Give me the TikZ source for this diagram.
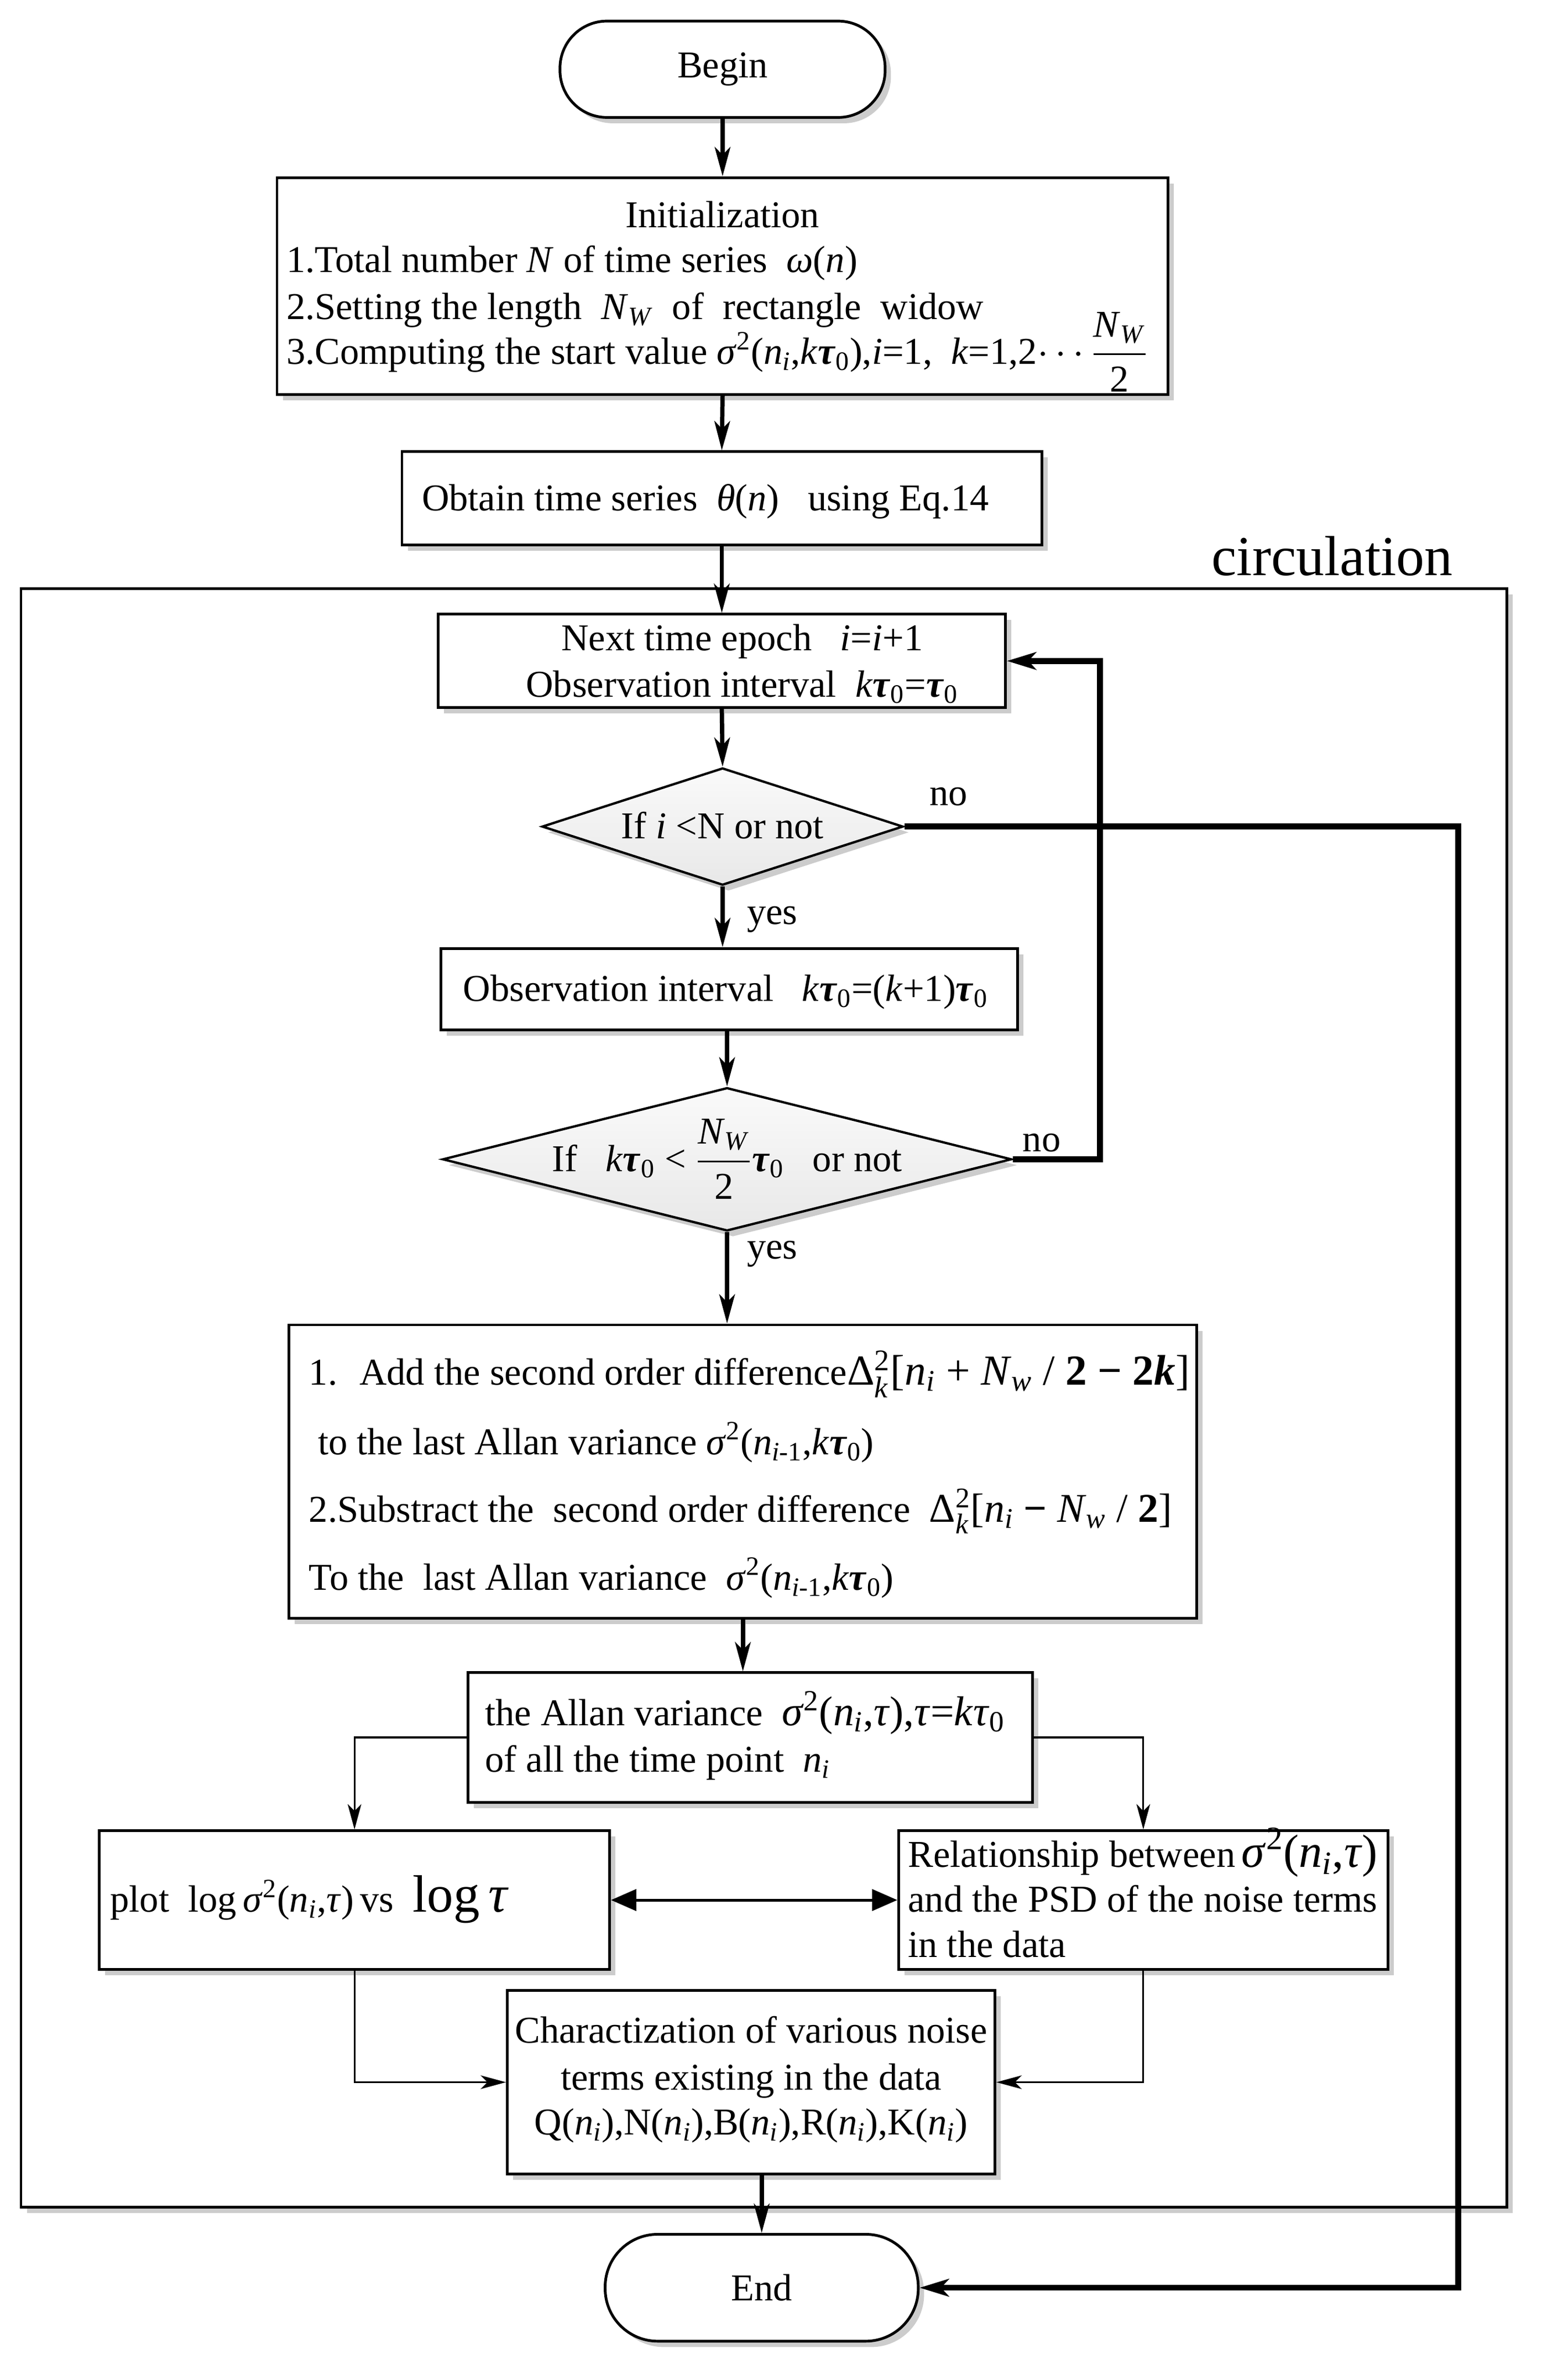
\documentclass[tikz,border=0pt]{standalone}
\usepackage{amsmath}
\usepackage{fontspec}
\setmainfont{Liberation Serif}
\usetikzlibrary{arrows.meta,shapes.geometric,shadows,fit}
\newcommand{\mi}[1]{\textit{#1}}
\newcommand{\lo}[1]{\textsubscript{#1}}
\newcommand{\hi}[1]{\textsuperscript{#1}}
\newcommand{\tauB}{\textbf{\textit{τ}}}
\newcommand{\dsk}{\mbox{Δ}$^{\text{2}}_{\text{\itshape k}}$}
\newcommand{\halfNW}{$\displaystyle\frac{\text{\mi{N}\lo{\mi{W}}}}{\text{2}}$}
\newcommand{\fsz}[1]{\fontsize{#1}{#1}\selectfont}
\begin{document}
\begin{tikzpicture}[x=0.027227cm,y=-0.027227cm,
  shdw/.style={general shadow={shadow xshift=3pt,shadow yshift=-3pt,fill=gray!40}},
  boxst/.style={draw=black,line width=1.4pt,fill=white,inner sep=0pt,shdw},
  term/.style={boxst,rounded corners=0.85cm},
  dia/.style={diamond,draw=black,line width=1.2pt,inner sep=0pt,top color=gray!4,bottom color=gray!18,shdw},
  framest/.style={draw=black,line width=1.2pt,fill=white,inner sep=0pt,shdw},
  txt/.style={anchor=base west,inner sep=0pt,font=\fontsize{19.5}{23}\selectfont},
  ctxt/.style={anchor=base,inner sep=0pt,font=\fontsize{19.5}{23}\selectfont},
  thk/.style={line width=2.2pt,-{Stealth[length=15pt,width=8pt,inset=4pt]}},
  thkx/.style={line width=3pt,-{Stealth[length=15pt,width=9pt,inset=4pt]}},
  thn/.style={line width=0.9pt,-{Stealth[length=13pt,width=7pt,inset=3.5pt]}},
  dbl/.style={line width=1.4pt,{Triangle[length=13pt,width=11pt]}-{Triangle[length=13pt,width=11pt]}}
]
\useasboundingbox (0,0) rectangle (1024,1580.8);

% circulation frame
\node[framest,fit={(14,391)(1001,1466)}] (circ) {};
\node[anchor=base,inner sep=0pt,font=\fontsize{29}{32}\selectfont] (circlab) at (885,382) {circulation};

% terminals
\node[term,fit={(372,14)(588,78)}] (begin) {};
\node[ctxt,anchor=center] (tbegin) at (begin.center) {Begin};
\node[term,rounded corners=0.95cm,fit={(402,1484)(610,1555)}] (end) {};
\node[ctxt,anchor=center] (tend) at (end.center) {End};

% initialization
\node[boxst,fit={(184,118)(776,262)}] (init) {};
\node[ctxt] (ti0) at (480,151) {Initialization};
\node[txt] (ti1) at (190,181) {1.Total number \mi{N} of time series \ \mi{ω}(\mi{n})};
\node[txt] (ti2) at (190,212) {2.Setting the length \ \mi{N}\lo{\mi{W}} \ of \ rectangle \ widow};
\node[txt] (ti3) at (190,242) {3.Computing the start value \mi{σ}\hi{2}(\mi{n}\lo{\mi{i}},\mi{k}\tauB\lo{0}),\mi{i}=1, \ \mi{k}=1,2$\cdots$\halfNW};

% theta
\node[boxst,fit={(267,300)(692,362)}] (theta) {};
\node[txt] (tth) at (280,339) {Obtain time series \ \mi{θ}(\mi{n}) \ \ using Eq.14};

% next epoch
\node[boxst,fit={(291,408)(668,470)}] (next) {};
\node[ctxt] (tn1) at (493,432) {Next time epoch \ \ \mi{i}=\mi{i}+1};
\node[ctxt] (tn2) at (493,463) {Observation interval \ \mi{k}\tauB\lo{0}=\tauB\lo{0}};

% decision 1
\node[dia,minimum width=6.53cm,minimum height=2.12cm] (d1) at (480,549) {};
\node[ctxt] (td1) at (480,557) {If \mi{i} <N or not};

% obs interval
\node[boxst,fit={(293,630)(676,684)}] (obs) {};
\node[ctxt] (tobs) at (482,665) {Observation interval \ \ \mi{k}\tauB\lo{0}=(\mi{k}+1)\tauB\lo{0}};

% decision 2
\node[dia,minimum width=10.29cm,minimum height=2.59cm] (d2) at (483,770) {};
\node[ctxt] (td2) at (483,778) {If \ \ \mi{k}\tauB\lo{0} < \halfNW\tauB\lo{0} \ \ or not};

% big update box
\node[boxst,fit={(192,880)(795,1075)}] (big) {};
\node[txt] (tb1) at (205,920) {1. \ Add the second order difference{\fsz{22}\dsk[\mi{n}\lo{\mi{i}} + \mi{N}\lo{\mi{w}} / \textbf{2} {\bfseries −} \textbf{2\mi{k}}]}};
\node[txt] (tb2) at (211,966) {to the last Allan variance \mi{σ}\hi{2}(\mi{n}\lo{\mi{i}-1},\mi{k}\tauB\lo{0})};
\node[txt] (tb3) at (205,1011) {2.Substract the \ second order difference \ {\fsz{21}\dsk[\mi{n}\lo{\mi{i}} {\bfseries −} \mi{N}\lo{\mi{w}} / \textbf{2}]}};
\node[txt] (tb4) at (205,1056) {To the \ last Allan variance \ \mi{σ}\hi{2}(\mi{n}\lo{\mi{i}-1},\mi{k}\tauB\lo{0})};

% allan variance
\node[boxst,fit={(311,1111)(686,1197)}] (allan) {};
\node[txt] (ta1) at (322,1146) {the Allan variance \ {\fsz{21.5}\mi{σ}\hi{2}(\mi{n}\lo{\mi{i}},\mi{τ}),\mi{τ}=\mi{k}\mi{τ}\lo{0}}};
\node[txt] (ta2) at (322,1177) {of all the time point \ \mi{n}\lo{\mi{i}}};

% plot
\node[boxst,fit={(66,1216)(405,1308)}] (plot) {};
\node[txt] (tp) at (73,1270) {plot \ log\,\mi{σ}\hi{2}(\mi{n}\lo{\mi{i}},\mi{τ})\,vs \ {\fontsize{27}{30}\selectfont log\,\mi{τ}}};

% relationship
\node[boxst,fit={(597,1216)(922,1308)}] (rel) {};
\node[txt] (tr1) at (603,1240) {Relationship between\,{\fsz{24}\mi{σ}\hi{2}(\mi{n}\lo{\mi{i}},\mi{τ})}};
\node[txt] (tr2) at (603,1270) {and the PSD of the noise terms};
\node[txt] (tr3) at (603,1300) {in the data};

% characterization
\node[boxst,fit={(337,1322)(661,1444)}] (char) {};
\node[ctxt] (tc1) at (499,1357) {Charactization of various noise};
\node[ctxt] (tc2) at (499,1388) {terms existing in the data};
\node[ctxt] (tc3) at (499,1418) {Q(\mi{n}\lo{\mi{i}}),N(\mi{n}\lo{\mi{i}}),B(\mi{n}\lo{\mi{i}}),R(\mi{n}\lo{\mi{i}}),K(\mi{n}\lo{\mi{i}})};

% labels
\node[ctxt] (no1) at (630,535) {no};
\node[ctxt] (yes1) at (513,614) {yes};
\node[ctxt] (no2) at (692,765) {no};
\node[ctxt] (yes2) at (513,836) {yes};

% connectors
\draw[thk] (begin.south) -- (init.north);
\draw[thk] (init.south) -- (theta.north);
\draw[thk] (theta.south) -- (next.north);
\draw[thk] (next.south) -- (d1.north);
\draw[thk] (d1.south) -- (d1.south |- obs.north);
\draw[thk] (obs.south -| d2.north) -- (d2.north);
\draw[thk] (d2.south) -- (d2.south |- big.north);
\draw[thk] (big.south) -- (big.south |- allan.north);
\draw[thn] (allan.west) -| (plot.north);
\draw[thn] (allan.east) -| (rel.north);
\draw[dbl] (plot.east) -- (rel.west);
\draw[thn] (plot.south) |- (char.west);
\draw[thn] (rel.south) |- (char.east);
\draw[thk] (end.north |- char.south) -- (end.north);
\draw[thkx] (d1.east) -- ++(368,0) |- (end.east);
\draw[thkx] (d2.east) -- ++(58,0) |- (next.east);
\end{tikzpicture}
\end{document}
